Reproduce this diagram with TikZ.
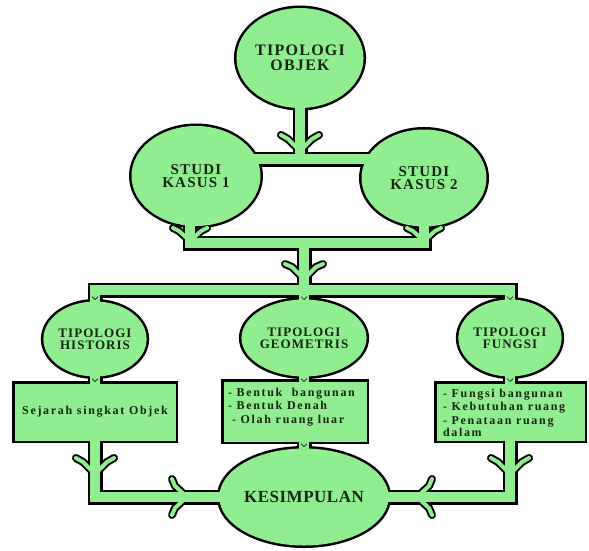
\documentclass[tikz,border=0pt]{standalone}
\usepackage{fontspec}
\setmainfont{Liberation Serif}
\newfontfamily\tA[LetterSpace=8]{Liberation Serif}
\newfontfamily\tK[LetterSpace=3]{Liberation Serif}
\newfontfamily\tB[LetterSpace=14]{Liberation Serif}
\usetikzlibrary{shapes.geometric,calc}
\definecolor{lg}{RGB}{144,238,144}
\definecolor{tc}{RGB}{18,36,18}
\pgfdeclarelayer{pk}\pgfdeclarelayer{outl}\pgfdeclarelayer{pg}
\pgfsetlayers{pk,outl,pg,main}
\tikzset{
  ell/.style={ellipse, fill=lg, inner sep=0pt, outer sep=0pt, text=tc, align=center},
  boxn/.style={rectangle, fill=lg, inner sep=0pt, outer sep=0pt, text=tc},
  olk/.style={draw=black, line width=5pt},
  pipek/.style={draw=black, line width=15pt, line join=miter},
  pipeg/.style={draw=lg, line width=10pt, line join=miter},
  barbk/.style={draw=black, line width=8pt, line join=round, line cap=round},
  barbg/.style={draw=lg, line width=4pt, line join=round, line cap=round},
  vmark/.style={draw=tc, line width=0.7pt},
  txt/.style={inner sep=0pt, outer sep=0pt, text=tc, align=left, anchor=north west,
    font=\tB\bfseries\fontsize{12}{13.5}\selectfont},
}
\newcommand\ellol[1]{\draw[olk] let \p0=(#1.center), \p1=(#1.east), \p2=(#1.north) in (\p0) ellipse [x radius={\x1-\x0}, y radius={\y2-\y0}];}
\newcommand\boxol[1]{\draw[olk] (#1.north west) rectangle (#1.south east);}
\newcommand\pipes[1]{\draw[#1]
  (obj.center) -- (t1)
  (k1.center |- t1) -- (k2.center |- t1)
  (k1p |- k1.center) -- (k1p) -- (k2p) -- (k2p |- k2.center)
  (t2) -- (geo.center)
  (his.center) -- (his.center |- hrow) -- (fun.center |- hrow) -- (fun.center)
  (his.center) -- (bhis.center) -- (bhis.center |- kes.center) -- (kes.center)
  (geo.center) -- (kes.center)
  (fun.center) -- (fun.center |- kes.center) -- (kes.center);}
\newcommand\barbs[1]{\draw[#1]
  (281,135) -- (288,139) -- (300,151) -- (312,139) -- (319,135)
  (285,264) -- (292,267) -- (304,279) -- (316,267) -- (323,264)
  (173,228) -- (179,231) -- (190,241) -- (201,231) -- (207,228)
  (407,228) -- (413,231) -- (424,241) -- (435,231) -- (441,228)
  (76,458) -- (83,462) -- (95,474) -- (107,462) -- (114,458)
  (491,458) -- (498,462) -- (510,474) -- (522,462) -- (529,458)
  (172,479) -- (175,486) -- (187,497) -- (175,508) -- (172,515)
  (432,479) -- (429,486) -- (417,497) -- (429,508) -- (432,515);}
\begin{document}
\begin{tikzpicture}[x=1pt,y=-1pt]
\useasboundingbox (0,0) rectangle (589,550);
% nodes
\node[ell, minimum width=122pt, minimum height=100pt,
  font=\tA\bfseries\fontsize{16}{14.5}\selectfont] (obj) at (300,58) {TIPOLOGI\\OBJEK};
\node[ell, minimum width=129pt, minimum height=100pt,
  font=\tA\bfseries\fontsize{15}{13.5}\selectfont] (k1) at (196,176) {STUDI\\KASUS 1};
\node[ell, minimum width=125pt, minimum height=97pt,
  font=\tA\bfseries\fontsize{15}{13.5}\selectfont] (k2) at (424,178) {STUDI\\KASUS 2};
\node[ell, minimum width=96pt, minimum height=75pt,
  font=\tA\bfseries\fontsize{13}{12}\selectfont] (his) at (95,339) {TIPOLOGI\\HISTORIS};
\node[ell, minimum width=92pt, minimum height=77pt,
  font=\tA\bfseries\fontsize{13}{12}\selectfont] (geo) at (304,338) {TIPOLOGI\\GEOMETRIS};
\node[ell, minimum width=94pt, minimum height=77pt,
  font=\tA\bfseries\fontsize{13}{12}\selectfont] (fun) at (510,338) {TIPOLOGI\\FUNGSI};
\node[ell, minimum width=127pt, minimum height=97pt,
  font=\tK\bfseries\fontsize{17}{17}\selectfont] (kes) at (304,497) {KESIMPULAN};
\node[boxn, minimum width=161pt, minimum height=57pt,
  font=\tB\bfseries\fontsize{12}{13.5}\selectfont] (bhis) at (95,412) {Sejarah singkat Objek};
\node[boxn, minimum width=143pt, minimum height=60pt] (bgeo) at (295,411.5) {};
\node[boxn, minimum width=148pt, minimum height=57pt] (bfun) at (510.5,412) {};
\node[txt] (tgeo) at (228,388) {- Bentuk\ \ bangunan\\- Bentuk Denah\\\hspace*{4pt}- Olah ruang luar};
\node[txt] (tfun) at (443,389) {- Fungsi bangunan\\- Kebutuhan ruang\\- Penataan ruang\\[-1.5pt]dalam};
% junctions
\coordinate (t1) at (300,159);
\coordinate (k1p) at (190,243);
\coordinate (k2p) at (424,243);
\coordinate (t2) at (304,243);
\coordinate (hrow) at (0,290);
% outlines
\begin{pgfonlayer}{outl}
  \ellol{obj}\ellol{k1}\ellol{k2}\ellol{his}\ellol{geo}\ellol{fun}\ellol{kes}
  \boxol{bhis}\boxol{bgeo}\boxol{bfun}
\end{pgfonlayer}
\begin{pgfonlayer}{pk}
  \pipes{pipek}
  \barbs{barbk}
\end{pgfonlayer}
\begin{pgfonlayer}{pg}
  \pipes{pipeg}
  \barbs{barbg}
\end{pgfonlayer}
% small chevrons at joins
\foreach \p in {(95,298),(304,298),(510,298),(95,380),(304,380),(510,380),(304,445)}
  \draw[vmark] \p ++(-3,-1.5) -- ++(3,3) -- ++(3,-3);
\end{tikzpicture}
\end{document}
